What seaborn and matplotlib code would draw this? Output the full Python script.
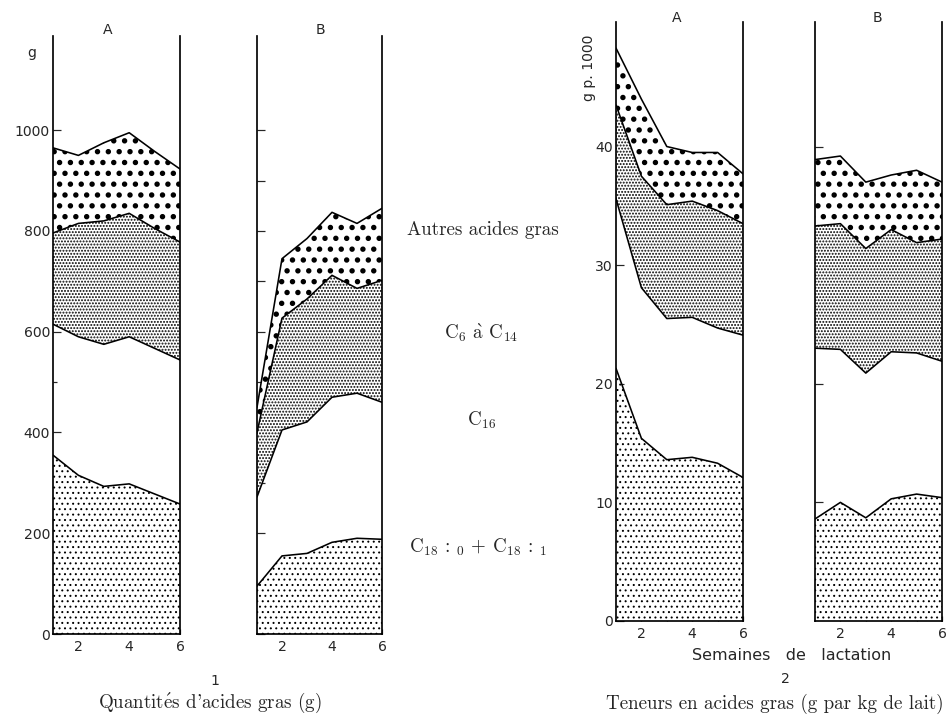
import matplotlib
matplotlib.use("Agg")
import matplotlib.pyplot as plt
from matplotlib.ticker import FixedLocator, NullFormatter
import seaborn as sns
import pandas as pd
import numpy as np

# weeks of lactation
semaines = [1, 2, 3, 4, 5, 6]
couches = ["C18", "C16", "C6-C14", "Autres"]

# figure 1 : quantities of fatty acids (g), layers from bottom to top
q_A_c18 = [355, 315, 293, 298, 278, 258]
q_A_c16 = [260, 275, 282, 292, 289, 286]
q_A_c6_14 = [181, 225, 245, 245, 238, 234]
q_A_autres = [169, 135, 155, 160, 153, 145]

q_B_c18 = [95, 155, 160, 182, 190, 188]
q_B_c16 = [177, 250, 261, 288, 288, 272]
q_B_c6_14 = [128, 222, 244, 242, 208, 242]
q_B_autres = [50, 118, 120, 125, 129, 143]

# figure 2 : contents (g per kg of milk)
t_A_c18 = [21.3, 15.4, 13.6, 13.8, 13.3, 12.1]
t_A_c16 = [14.3, 12.7, 11.9, 11.8, 11.4, 12.0]
t_A_c6_14 = [7.9, 9.4, 9.6, 9.8, 9.9, 9.4]
t_A_autres = [4.8, 6.5, 4.9, 4.1, 4.9, 4.2]

t_B_c18 = [8.6, 10.0, 8.7, 10.3, 10.7, 10.4]
t_B_c16 = [14.4, 12.9, 12.2, 12.4, 11.9, 11.5]
t_B_c6_14 = [10.3, 10.6, 10.5, 10.3, 9.3, 10.3]
t_B_autres = [5.6, 5.7, 5.6, 4.6, 6.1, 4.8]

q_ticks_major = [0, 200, 400, 600, 800, 1000]
q_ticks_minor = [100, 300, 500, 700, 900]
q_ticks_all = [0, 100, 200, 300, 400, 500, 600, 700, 800, 900, 1000]
t_ticks_major = [0, 10, 20, 30, 40]

W, H = 950, 716
DPI = 130  # picked so the hatch dot grids come out near the scanned ones
P = 72.0 / DPI  # px -> pt

sns.set_style("white")
plt.rcParams['font.family'] = ['DejaVu Sans']
plt.rcParams['mathtext.fontset'] = 'cm'
serif = ['cmr10', 'DejaVu Serif']

hatches = {"C18": "....", "C16": None, "C6-C14": ".......", "Autres": ".."}
hatch_lw = {"C18": 1.0, "C16": 0.5, "C6-C14": 1.3, "Autres": 3.2}  # px


def ax_rect(x0, x1, ytop, ybot):
    return [x0 / W, 1 - ybot / H, (x1 - x0) / W, (ybot - ytop) / H]


def ftext(px, py, s, size, **kw):
    fig.text(px / W, 1 - py / H, s, ha='center', va='center',
             fontsize=size * P, **kw)


def draw_panel(ax, layers, ymax):
    cum = np.cumsum(np.array(layers, dtype=float), axis=0)
    base = np.zeros(len(semaines))
    rows = []
    for name, top in zip(couches, cum):
        if hatches[name]:
            poly = ax.fill_between(semaines, base, top, facecolor='white',
                                   edgecolor='black', linewidth=0,
                                   hatch=hatches[name])
            if hasattr(poly, 'set_hatch_linewidth'):
                poly.set_hatch_linewidth(hatch_lw[name] * P)
        for s, v in zip(semaines, top):
            rows.append({'semaine': s, 'couche': name, 'cumul': v})
        base = top
    df = pd.DataFrame(rows)
    sns.lineplot(data=df, x='semaine', y='cumul', units='couche',
                 estimator=None, color='black', linewidth=1.6 * P, ax=ax,
                 legend=False)
    ax.set_xlim(1, 6)
    ax.set_ylim(0, ymax)
    ax.set_xlabel('')
    ax.set_ylabel('')
    ax.spines['top'].set_visible(False)
    for sp in ['left', 'right', 'bottom']:
        ax.spines[sp].set_visible(True)
        ax.spines[sp].set_linewidth(1.7 * P)
        ax.spines[sp].set_color('black')
    ax.xaxis.set_major_locator(FixedLocator([2, 4, 6]))
    ax.xaxis.set_minor_locator(FixedLocator([1, 3, 5]))
    ax.tick_params(axis='x', which='both', direction='in', length=5 * P,
                   width=1.2 * P, bottom=True, top=False, labelsize=14 * P,
                   pad=6 * P)
    ax.tick_params(axis='y', which='both', direction='in', left=True,
                   right=False, width=1.2 * P, labelsize=14 * P, pad=3 * P)
    ax.set_facecolor('none')


fig = plt.figure(figsize=(W / DPI, H / DPI), dpi=DPI)

# ---- figure 1 ----
axA1 = fig.add_axes(ax_rect(53, 180, 36, 634))
draw_panel(axA1, [q_A_c18, q_A_c16, q_A_c6_14, q_A_autres], 1187)
axA1.yaxis.set_major_locator(FixedLocator(q_ticks_major))
axA1.yaxis.set_minor_locator(FixedLocator(q_ticks_minor))
axA1.tick_params(axis='y', which='major', length=8 * P)
axA1.tick_params(axis='y', which='minor', length=4 * P)

axB1 = fig.add_axes(ax_rect(257, 382, 36, 634))
draw_panel(axB1, [q_B_c18, q_B_c16, q_B_c6_14, q_B_autres], 1187)
axB1.yaxis.set_major_locator(FixedLocator(q_ticks_all))
axB1.yaxis.set_major_formatter(NullFormatter())
axB1.tick_params(axis='y', which='major', length=8 * P)

# ---- figure 2 ----
axA2 = fig.add_axes(ax_rect(616, 743, 22, 621))
draw_panel(axA2, [t_A_c18, t_A_c16, t_A_c6_14, t_A_autres], 50.5)
axA2.yaxis.set_major_locator(FixedLocator(t_ticks_major))
axA2.tick_params(axis='y', which='major', length=8 * P)

axB2 = fig.add_axes(ax_rect(815, 942, 22, 621))
draw_panel(axB2, [t_B_c18, t_B_c16, t_B_c6_14, t_B_autres], 50.5)
axB2.yaxis.set_major_locator(FixedLocator(t_ticks_major[1:]))
axB2.yaxis.set_major_formatter(NullFormatter())
axB2.tick_params(axis='y', which='major', length=8 * P)

# panel letters and unit labels
ftext(108, 30, "A", 14)
ftext(320, 30, "B", 14)
ftext(677, 18, "A", 14)
ftext(877, 18, "B", 14)
ftext(32, 53, "g", 14)
ftext(589, 68, "g p. 1000", 14, rotation=90)

# layer names between the two figures
ftext(483, 230, "Autres acides gras", 19, family=serif)
ftext(481, 333, r"C$_{\mathbf{6}}$ $\grave{\mathrm{a}}$ C$_{\mathbf{14}}$", 19, family=serif)
ftext(482, 420, r"C$_{\mathbf{16}}$", 19, family=serif)
ftext(478, 547, r"C$_{\mathbf{18}}$ : $_{\mathbf{0}}$ + C$_{\mathbf{18}}$ : $_{\mathbf{1}}$",
      19, family=serif)

# captions
ftext(215, 681, "1", 14)
ftext(210, 703, r"Quantit$\acute{\mathrm{e}}$s d'acides gras (g)", 19, family=serif)
ftext(792, 655, "Semaines   de   lactation", 16)
ftext(785, 679, "2", 14)
ftext(775, 704, "Teneurs en acides gras (g par kg de lait)", 19, family=serif)

fig.savefig("out.png", dpi=DPI)
